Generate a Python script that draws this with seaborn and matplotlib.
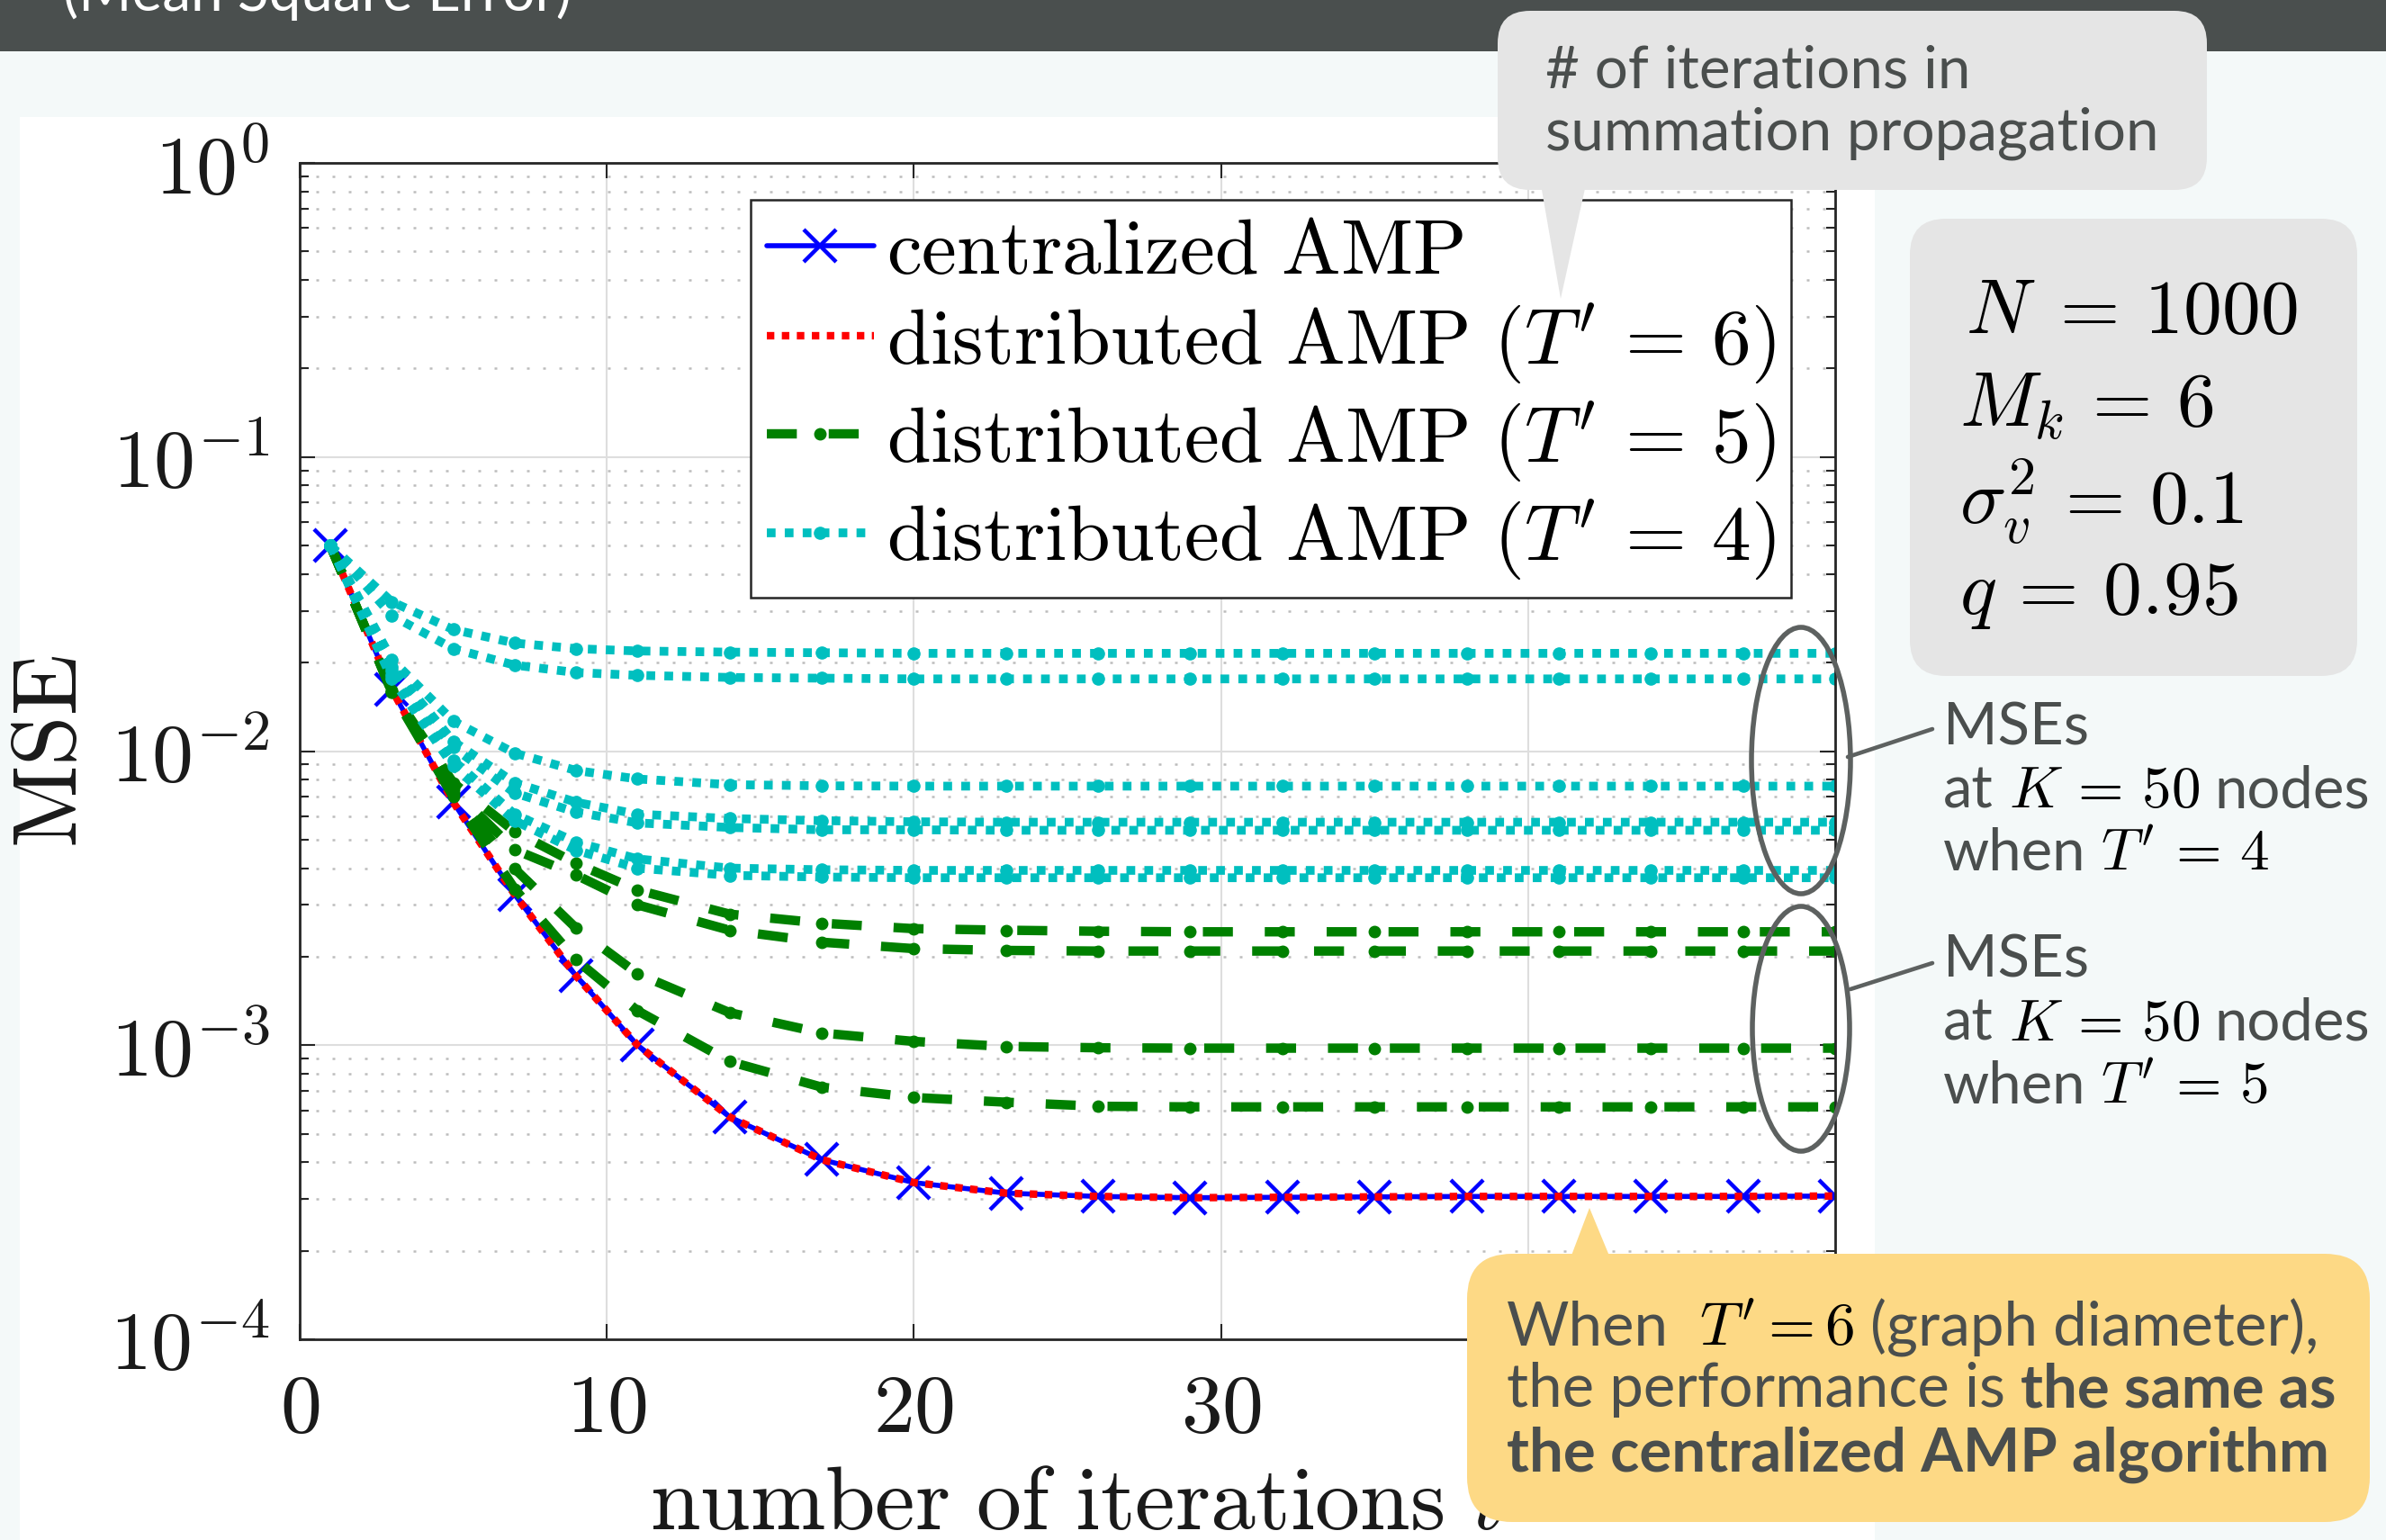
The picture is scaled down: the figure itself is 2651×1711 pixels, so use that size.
import matplotlib
matplotlib.use("Agg")
import matplotlib.pyplot as plt
import seaborn as sns
import numpy as np
from matplotlib.patches import FancyBboxPatch, Rectangle, Polygon, Ellipse
from matplotlib.lines import Line2D
from matplotlib.transforms import IdentityTransform
from matplotlib.ticker import LogLocator, NullLocator, FixedLocator, NullFormatter

# ---------------- data ----------------
iterations = [1, 3, 5, 7, 9, 11, 14, 17, 20, 23, 26, 29, 32, 35, 38, 41, 44, 47, 50]

mse_centralized = [0.0500, 0.0162, 0.0067, 0.00325, 0.00172, 0.00100, 0.00057, 0.000408, 0.000341,
                   0.000314, 0.000306, 0.000303, 0.000304, 0.000305, 0.000306, 0.000306, 0.000306,
                   0.000306, 0.000307]
mse_T6 = [0.0500, 0.0162, 0.0067, 0.00325, 0.00172, 0.00100, 0.00057, 0.000408, 0.000341,
          0.000314, 0.000306, 0.000303, 0.000304, 0.000305, 0.000306, 0.000306, 0.000306,
          0.000306, 0.000307]

mse_T5_a = [0.0500, 0.0161, 0.0078, 0.00533, 0.00415, 0.00337, 0.00279, 0.00260, 0.00249, 0.00246,
            0.00244, 0.00243, 0.00243, 0.00243, 0.00243, 0.00243, 0.00243, 0.00243, 0.00243]
mse_T5_b = [0.0500, 0.0160, 0.0074, 0.00462, 0.00379, 0.00300, 0.00246, 0.00224, 0.00213, 0.00210,
            0.00209, 0.00209, 0.00209, 0.00209, 0.00209, 0.00209, 0.00209, 0.00209, 0.00209]
mse_T5_c = [0.0500, 0.0159, 0.0072, 0.00398, 0.00250, 0.00175, 0.00129, 0.00110, 0.00103, 0.00099,
            0.00098, 0.000977, 0.000977, 0.000977, 0.000977, 0.000977, 0.000977, 0.000977, 0.000977]
mse_T5_d = [0.0500, 0.0159, 0.0070, 0.00340, 0.00195, 0.00131, 0.00088, 0.00072, 0.000664, 0.00064,
            0.00062, 0.000617, 0.000617, 0.000617, 0.000617, 0.000617, 0.000617, 0.000617, 0.000617]

mse_T4_a = [0.0500, 0.0322, 0.0259, 0.0233, 0.0223, 0.0219, 0.0217, 0.0216, 0.0215, 0.0215,
            0.0215, 0.0215, 0.0215, 0.0215, 0.0215, 0.0215, 0.0215, 0.0215, 0.0215]
mse_T4_b = [0.0500, 0.0289, 0.0223, 0.0196, 0.0185, 0.0181, 0.0178, 0.0177, 0.0176, 0.0176,
            0.0176, 0.0176, 0.0176, 0.0176, 0.0176, 0.0176, 0.0176, 0.0176, 0.0176]
mse_T4_c = [0.0500, 0.0205, 0.01265, 0.00984, 0.00859, 0.00804, 0.00769, 0.00762, 0.0076, 0.0076,
            0.0076, 0.0076, 0.0076, 0.0076, 0.0076, 0.0076, 0.0076, 0.0076, 0.0076]
mse_T4_d = [0.0500, 0.0193, 0.0108, 0.0078, 0.0067, 0.0061, 0.0059, 0.0058, 0.00575, 0.00573,
            0.00573, 0.00573, 0.00573, 0.00573, 0.00573, 0.00573, 0.00573, 0.00573, 0.00573]
mse_T4_e = [0.0500, 0.0188, 0.0103, 0.0072, 0.0062, 0.0057, 0.0055, 0.0054, 0.0054, 0.00538,
            0.00538, 0.00538, 0.00538, 0.00538, 0.00538, 0.00538, 0.00538, 0.00538, 0.00538]
mse_T4_f = [0.0500, 0.0181, 0.0093, 0.0061, 0.0049, 0.0043, 0.0040, 0.00395, 0.00393, 0.00393,
            0.00393, 0.00393, 0.00393, 0.00393, 0.00393, 0.00393, 0.00393, 0.00393, 0.00393]
mse_T4_g = [0.0500, 0.0176, 0.0089, 0.0058, 0.0046, 0.0040, 0.00378, 0.00373, 0.00371, 0.00371,
            0.00371, 0.00371, 0.00371, 0.00371, 0.00371, 0.00371, 0.00371, 0.00371, 0.00371]

series_T5 = [mse_T5_a, mse_T5_b, mse_T5_c, mse_T5_d]
series_T4 = [mse_T4_a, mse_T4_b, mse_T4_c, mse_T4_d, mse_T4_e, mse_T4_f, mse_T4_g]

legend_labels = [r"$\mathrm{centralized\ AMP}$",
                 r"$\mathrm{distributed\ AMP}\ (T'\,=\,6)$",
                 r"$\mathrm{distributed\ AMP}\ (T'\,=\,5)$",
                 r"$\mathrm{distributed\ AMP}\ (T'\,=\,4)$"]
x_ticks = [0, 10, 20, 30, 40, 50]
x_tick_labels = [r"$0$", r"$10$", r"$20$", r"$30$", "", ""]   # 40 and 50 sit behind the yellow box
y_ticks = [1e-4, 1e-3, 1e-2, 1e-1, 1e0]
y_tick_labels = [r"$10^{-4}$", r"$10^{-3}$", r"$10^{-2}$", r"$10^{-1}$", r"$10^{0}$"]
x_label = r"$\mathrm{number\ of\ iterations}\ t$"
y_label = r"$\mathrm{MSE}$"
banner_title = "(Mean Square Error)"
callout_lines = ["# of iterations in", "summation propagation"]
param_lines = [r"$N\;=\,1000$", r"$M_k\,=\,6$", r"$\sigma_v^2\,=\,0.1$", r"$q\,=\,0.95$"]

# ---------------- style ----------------
sns.set_theme(style="white")
plt.rcParams["font.family"] = ["Lato", "DejaVu Sans"]
plt.rcParams["mathtext.fontset"] = "cm"

W, H = 2651, 1711
fig = plt.figure(figsize=(W / 100, H / 100), dpi=100)
fig.patch.set_facecolor("#f4f9f9")
ID = IdentityTransform()
GRAY_TXT = "#4a4e4d"


def Y(y):
    return H - y


# slide backgrounds
fig.add_artist(Rectangle((22, 0), 2083 - 22, H - 130, transform=ID,
                         facecolor="white", edgecolor="none", zorder=-3))
fig.add_artist(Rectangle((0, Y(57)), W, 57, transform=ID,
                         facecolor="#4a4f4e", edgecolor="none", zorder=-2))

# ---------------- axes ----------------
ax = fig.add_axes([333 / W, (H - 1488) / H, (2039 - 333) / W, (1488 - 181) / H])
ax.set_facecolor("white")


def draw(vals, color, ls, lw, marker=None, ms=0, mew=0, zorder=2):
    sns.lineplot(x=iterations, y=vals, ax=ax, color=color, linestyle=ls, linewidth=lw,
                 marker=marker, markersize=ms, markeredgewidth=mew, markeredgecolor=color,
                 markerfacecolor=color, estimator=None, sort=False, legend=False, zorder=zorder)
    ln = ax.lines[-1]
    ln.set_dash_capstyle("butt")
    return ln


h_c = draw(mse_centralized, "#0000ff", "-", 4.0, marker="x", ms=26, mew=3.2, zorder=2)
h_6 = draw(mse_T6, "#ff0000", (0, (1, 1)), 6.0, zorder=2.1)
h_5 = None
for s in series_T5:
    ln = draw(s, "#008000", (0, (3.2, 3.4)), 7.5, marker="o", ms=9, mew=1, zorder=2.2)
    h_5 = h_5 or ln
h_4 = None
for s in series_T4:
    ln = draw(s, "#00bfbf", (0, (1, 1.05)), 7.0, marker="o", ms=9.5, mew=1, zorder=2.3)
    h_4 = h_4 or ln

ax.set_yscale("log")
ax.set_xlim(0, 50)
ax.set_ylim(1e-4, 1)
ax.xaxis.set_major_locator(FixedLocator(x_ticks))
ax.set_xticklabels(x_tick_labels)
ax.xaxis.set_minor_locator(NullLocator())
ax.yaxis.set_major_locator(FixedLocator(y_ticks))
ax.set_yticklabels(y_tick_labels)
ax.yaxis.set_minor_locator(LogLocator(base=10, subs=np.arange(2, 10)))
ax.yaxis.set_minor_formatter(NullFormatter())
ax.tick_params(which="both", direction="in", top=True, right=True, bottom=True, left=True,
               color="#262626", width=1.5, labelcolor="#1a1a1a")
ax.tick_params(which="major", length=12, labelsize=66)
ax.tick_params(which="minor", length=7)
ax.tick_params(axis="y", which="major", pad=24)
ax.tick_params(axis="x", which="major", pad=26)
for sp in ax.spines.values():
    sp.set_visible(True)
    sp.set_color("#262626")
    sp.set_linewidth(2)
ax.grid(True, which="major", axis="both", color="#dedede", linewidth=1.5, linestyle="-")
ax.grid(True, which="minor", axis="y", color="#bdbdbd", linewidth=1.8, linestyle=(0, (1.2, 6)))
ax.set_axisbelow(True)
ax.set_xlabel("")
ax.set_ylabel("")

leg = ax.legend([h_c, h_6, h_5, h_4], legend_labels, loc="upper left",
                bbox_to_anchor=(0.2937, 0.9686), borderaxespad=0, fontsize=63, frameon=True,
                fancybox=False, edgecolor="#262626", facecolor="white", framealpha=1,
                borderpad=0.2, labelspacing=0.18, handlelength=1.37, handletextpad=0.15,
                numpoints=1)
leg.get_frame().set_linewidth(1.8)
for t in leg.get_texts():
    t.set_color("black")

# ---------------- text helpers ----------------
R = fig.canvas.get_renderer()


def tw(t):
    return t.get_window_extent(R).width


def text_at(x, y, s, **kw):
    kw.setdefault("va", "baseline")
    kw.setdefault("ha", "left")
    return fig.text(x, Y(y), s, transform=ID, **kw)


def space_w(size, **kw):
    a = fig.text(0, 0, "x x", fontsize=size, transform=ID, **kw)
    b = fig.text(0, 0, "xx", fontsize=size, transform=ID, **kw)
    w = tw(a) - tw(b)
    a.remove()
    b.remove()
    return w


def runs_width(runs, size):
    sp = space_w(size)
    tot = 0
    for s, kw, gap in runs:
        t = fig.text(0, 0, s, fontsize=size, transform=ID, **kw)
        tot += tw(t) + gap * sp
        t.remove()
    return tot


def runs_at(x, y, runs, size, zorder):
    sp = space_w(size)
    for s, kw, gap in runs:
        t = text_at(x, y, s, fontsize=size, zorder=zorder, **kw)
        x += tw(t) + gap * sp


def fit(runs, width, guess=50):
    return guess * width / runs_width(runs, guess)


reg = dict(color=GRAY_TXT)
bold = dict(color=GRAY_TXT, fontweight="bold")
math = dict(color="black")

# axis labels (as MATLAB places them)
text_at(722, 1699, x_label, fontsize=72, color="#1a1a1a", zorder=2)
fig.text(56, Y(835), y_label, transform=ID, fontsize=72, rotation=90, ha="center",
         va="center", color="#1a1a1a", zorder=2)

# banner title (cut by the top edge)
s_b = fit([(banner_title, dict(color="white"), 0)], 564)
text_at(70, 12, banner_title, fontsize=s_b, color="white", zorder=1)

# top grey callout
fig.add_artist(FancyBboxPatch((1664, Y(211)), 2452 - 1664, 211 - 12, transform=ID,
                              boxstyle="round,pad=0,rounding_size=36",
                              facecolor="#e5e5e5", edgecolor="none", zorder=5))
fig.add_artist(Polygon([(1712, Y(205)), (1762, Y(205)), (1734, Y(332))], closed=True,
                       transform=ID, facecolor="#e5e5e5", edgecolor="none", zorder=5))
s_c = fit([(callout_lines[1], reg, 0)], 681)
text_at(1717, 98, callout_lines[0], fontsize=s_c, zorder=6, **reg)
text_at(1717, 167, callout_lines[1], fontsize=s_c, zorder=6, **reg)

# parameter box
fig.add_artist(FancyBboxPatch((2122, Y(751)), 2619 - 2122, 751 - 243, transform=ID,
                              boxstyle="round,pad=0,rounding_size=40",
                              facecolor="#e5e5e5", edgecolor="none", zorder=5))
s_p = fit([(param_lines[0], math, 0)], 369)
for (px, py), s in zip([(2184, 370), (2177, 473), (2177, 582), (2177, 682)], param_lines):
    text_at(px, py, s, fontsize=s_p, zorder=6, color="black")

# ellipses + connectors + labels
for cx, cy, ew, eh in [(2001, 845, 110, 296), (2001, 1143, 108, 272)]:
    fig.add_artist(Ellipse((cx, Y(cy)), ew, eh, transform=ID, facecolor="none",
                           edgecolor="#5d6160", linewidth=4, zorder=4))
for (x0, y0), (x1, y1) in [((2053, 841), (2147, 810)), ((2056, 1099), (2147, 1070))]:
    fig.add_artist(Line2D([x0, x1], [Y(y0), Y(y1)], transform=ID, color="#5d6160",
                          linewidth=3.3, zorder=4))

mse_runs_mid = [("at", reg, 1), (r"$K\,=\,50$", math, 1), ("nodes", reg, 0)]
s_m = fit(mse_runs_mid, 474)
for base, tval in [(827, "4"), (1086, "5")]:
    runs_at(2159, base, [("MSEs", reg, 0)], s_m, 6)
    runs_at(2159, base + 70, mse_runs_mid, s_m, 6)
    runs_at(2159, base + 140, [("when", reg, 1), (r"$T'\,=\," + tval + r"$", math, 0)], s_m, 6)

# yellow callout
fig.add_artist(FancyBboxPatch((1630, Y(1691)), 2633 - 1630, 1691 - 1393, transform=ID,
                              boxstyle="round,pad=0,rounding_size=50",
                              facecolor="#fdd985", edgecolor="none", zorder=5))
fig.add_artist(Polygon([(1744, Y(1400)), (1790, Y(1400)), (1766, Y(1342))], closed=True,
                       transform=ID, facecolor="#fdd985", edgecolor="none", zorder=5))
s_y = fit([("the centralized AMP algorithm", bold, 0)], 916)
runs_at(1674, 1495, [("When", reg, 2), (r"$T' = 6$", math, 1), ("(graph diameter),", reg, 0)], s_y, 6)
runs_at(1674, 1563, [("the performance is", reg, 1), ("the same as", bold, 0)], s_y, 6)
runs_at(1674, 1635, [("the centralized AMP algorithm", bold, 0)], s_y, 6)

fig.savefig("out.png", dpi=100, facecolor=fig.get_facecolor())
